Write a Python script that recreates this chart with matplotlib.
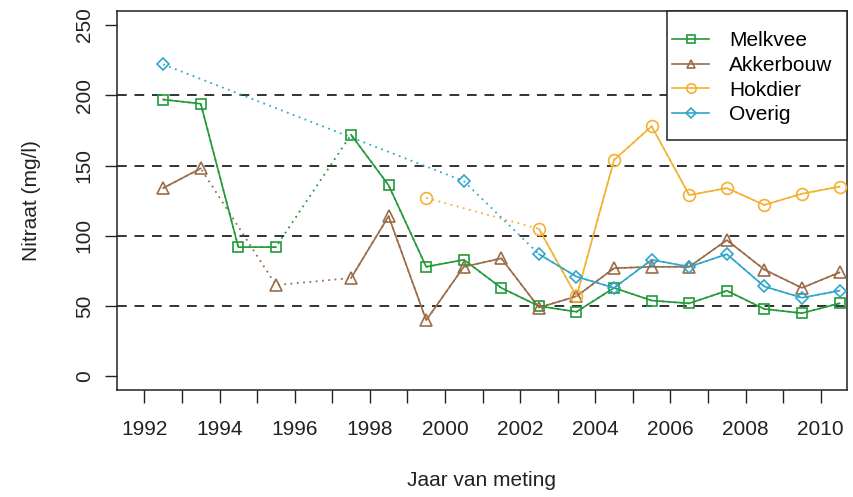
import numpy as np
import matplotlib
matplotlib.use('Agg')
from matplotlib import pyplot as plt
from matplotlib.lines import Line2D
from matplotlib.patches import Rectangle

plt.rcParams['font.family'] = ['Liberation Sans', 'DejaVu Sans']

nan = np.nan
years = np.arange(1992, 2011)

melkvee   = [197, 194, 92, 92, nan, 172, 136, 78, 83, 63, 50, 46, 63, 54, 52, 61, 48, 45, 52]
akkerbouw = [134, 148, nan, 65, nan, 70, 114, 40, 78, 84, 49, 57, 77, 78, 78, 97, 76, 63, 74]
hokdier   = [nan, nan, nan, nan, nan, nan, nan, 127, nan, nan, 105, 57, 154, 178, 129, 134, 122, 130, 135]
overig    = [222, nan, nan, nan, nan, nan, nan, nan, 139, nan, 87, 71, 63, 83, 78, 87, 64, 56, 61]

names   = ['Melkvee', 'Akkerbouw', 'Hokdier', 'Overig']
series  = [melkvee, akkerbouw, hokdier, overig]
colors  = ['#229a3a', '#9a6c48', '#f4b030', '#30a6cc']
markers = ['s', '^', 'o', 'D']
msizes  = [7, 8, 8.5, 6.5]

fig = plt.figure(figsize=(8.54, 4.97), dpi=100)
ax = fig.add_axes([0.1374, 0.2143, 0.8540, 0.7636])

for lev in [50, 100, 150, 200]:
  ax.axhline(lev, color='#333333', lw=1.4, ls=(0, (5, 4)), zorder=1)

xpos = years + 0.5
handles = []
for name, vals, c, m, ms in zip(names, series, colors, markers, msizes):
  v = np.array(vals, dtype=float)
  ok = ~np.isnan(v)
  # dotted across missing years, solid between consecutive years
  ax.plot(xpos[ok], v[ok], ls=(0, (1, 2.5)), color=c, lw=1.3, zorder=2)
  ax.plot(xpos, v, '-', color=c, lw=1.2, zorder=3)
  ax.plot(xpos[ok], v[ok], ls='none', marker=m, ms=ms, mfc='none', mec=c, mew=1.2, zorder=4)
  handles.append(Line2D([], [], color=c, lw=1.2, marker=m, ms=ms * 0.8, mfc='none', mec=c, mew=1.2))

ax.set_xlim(1991.28, 2010.69)
ax.set_ylim(-10, 260)

ax.set_xticks(years)
ax.set_xticklabels([str(y) if y % 2 == 0 else '' for y in years])
ax.set_yticks([0, 50, 100, 150, 200, 250])
ax.tick_params(axis='x', length=9.5, width=1, pad=12, labelsize=15, colors='#222222')
ax.tick_params(axis='y', length=9, width=1, pad=8, labelsize=15, colors='#222222')
for lab in ax.get_yticklabels():
  lab.set_rotation(90)
  lab.set_va('center')

for sp in ax.spines.values():
  sp.set_linewidth(1.1)
  sp.set_color('#222222')

ax.set_xlabel('Jaar van meting', fontsize=15, color='#222222')
ax.set_ylabel('Nitraat (mg/l)', fontsize=15, color='#222222')
ax.xaxis.set_label_coords(0.5, -0.212)
ax.yaxis.set_label_coords(-0.104, 0.5)

# R-style legend box in the top-right corner
box = Rectangle((0.754, 0.660), 0.246, 0.340, transform=ax.transAxes, facecolor='white',
                edgecolor='#222222', lw=1.1, zorder=8, clip_on=False)
ax.add_patch(box)
leg = ax.legend(handles, names, loc='upper left', bbox_to_anchor=(0.7605, 0.946), fontsize=15,
                frameon=False, borderaxespad=0, borderpad=0, handlelength=1.8,
                handletextpad=0.95, labelspacing=0.27)
leg.set_zorder(10)

fig.savefig('out.png', dpi=100)
plt.close()
